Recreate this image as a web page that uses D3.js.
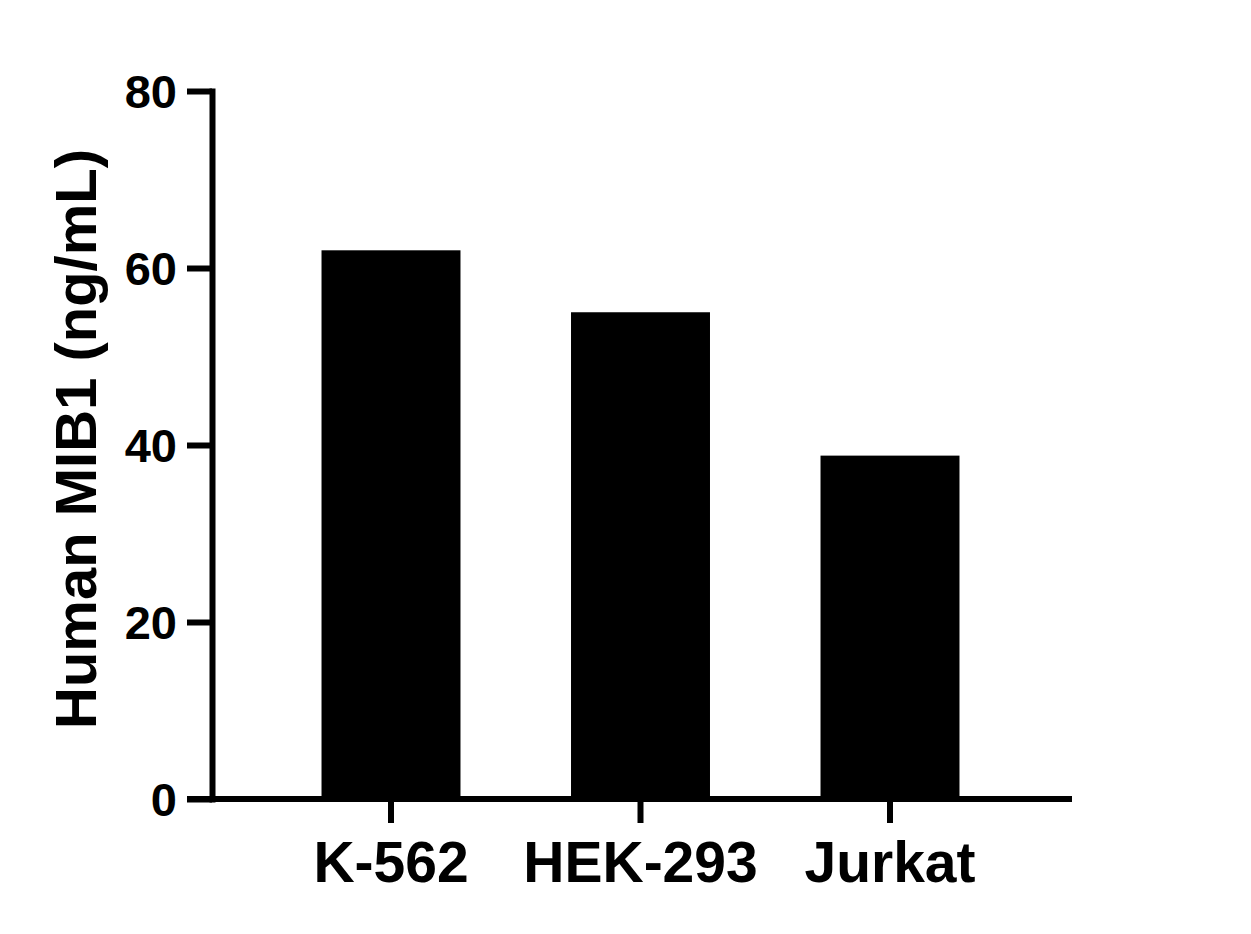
<!DOCTYPE html>
<html>
<head>
<meta charset="utf-8">
<script src="https://cdn.jsdelivr.net/npm/d3@7"></script>
<style>
  html, body { margin: 0; padding: 0; background: #fff; }
  svg { display: block; }
  text { font-family: "Liberation Sans", Arial, Helvetica, sans-serif; font-weight: bold; fill: #000; }
</style>
</head>
<body>
<svg id="chart" width="1251" height="934"></svg>
<script>
const categories = ["K-562", "HEK-293", "Jurkat"];
const values = [62, 55, 38.8];
const yTicks = [0, 20, 40, 60, 80];
const yLabel = "Human MIB1 (ng/mL)";

const svg = d3.select("#chart");
const W = 1251, H = 934;
svg.append("rect").attr("width", W).attr("height", H).attr("fill", "#fff");

const axisX = 212;       // y-axis line position
const xAxisEnd = 1072;   // x-axis line right end
const tickLen = 25;

const y = d3.scaleLinear().domain([0, 80]).range([799, 91]);
const x = d3.scaleBand().domain(categories)
  .range([266.25, 1014.75])
  .paddingInner(0.443)
  .paddingOuter(0.2215);

// bars
svg.append("g").selectAll("rect").data(values).join("rect")
  .attr("x", (d, i) => x(categories[i]))
  .attr("width", x.bandwidth())
  .attr("y", d => y(d))
  .attr("height", d => y(0) - y(d))
  .attr("fill", "#000");

// y axis
const gy = svg.append("g").attr("transform", `translate(${axisX},0)`)
  .call(d3.axisLeft(y).tickValues(yTicks).tickSize(tickLen).tickSizeOuter(0).tickPadding(10));
gy.select(".domain").attr("stroke", "#000").attr("stroke-width", 6).attr("stroke-linecap", "square");
gy.selectAll(".tick line").attr("stroke", "#000").attr("stroke-width", 6);
gy.selectAll(".tick text").attr("font-size", 47).attr("dy", "0.36em")
  .attr("font-family", '"Liberation Sans", Arial, sans-serif').attr("font-weight", "bold").attr("fill", "#000");

// x axis
const gx = svg.append("g").attr("transform", `translate(0,${y(0)})`)
  .call(d3.axisBottom(x).tickSize(24).tickSizeOuter(0).tickPadding(19));
gx.select(".domain").remove();
gx.selectAll(".tick line").attr("stroke", "#000").attr("stroke-width", 6);
gx.selectAll(".tick text").attr("font-size", 57)
  .attr("font-family", '"Liberation Sans", Arial, sans-serif').attr("font-weight", "bold").attr("fill", "#000");
gx.append("line")
  .attr("x1", axisX - tickLen).attr("x2", xAxisEnd)
  .attr("y1", 0).attr("y2", 0)
  .attr("stroke", "#000").attr("stroke-width", 6);

// y label
svg.append("text")
  .attr("transform", `translate(96,${(y(0) + y(80)) / 2 - 6}) rotate(-90)`)
  .attr("text-anchor", "middle")
  .attr("font-size", 58)
  .text(yLabel);
</script>
</body>
</html>
